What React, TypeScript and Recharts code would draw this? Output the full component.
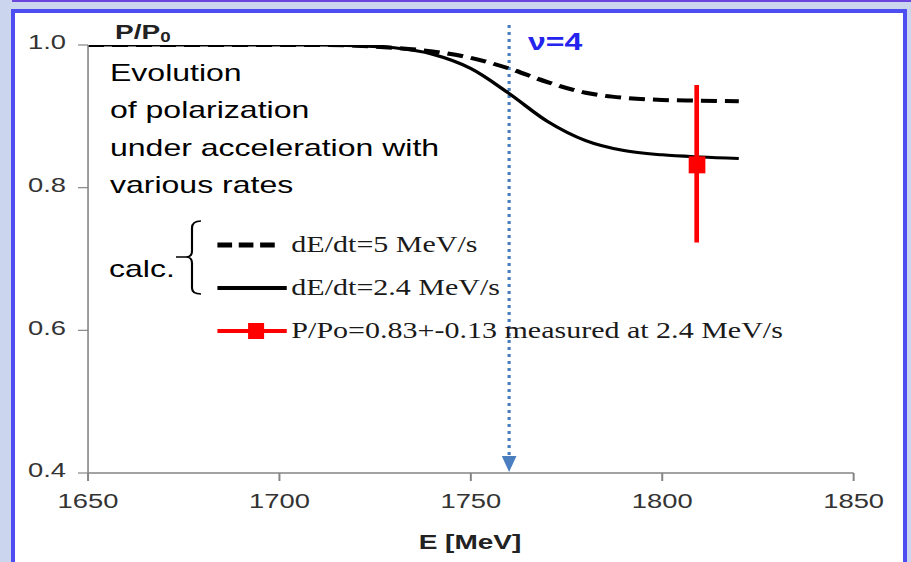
import {
  ComposedChart,
  ErrorBar,
  Legend,
  Line,
  ReferenceDot,
  ReferenceLine,
  Scatter,
  XAxis,
  YAxis,
} from "recharts";

// energy grid [MeV] and calculated P/P0 for the two ramp rates
const energy = [
  1650, 1660, 1670, 1680, 1690, 1700, 1710, 1720, 1730, 1740, 1750, 1760,
  1770, 1780, 1790, 1800, 1810, 1820,
];
const fastRate = [
  1.0, 1.0, 1.0, 1.0, 1.0, 1.0, 1.0, 0.999, 0.996, 0.991, 0.982, 0.967,
  0.948, 0.933, 0.926, 0.923, 0.922, 0.921,
];
const slowRate = [
  1.0, 1.0, 1.0, 1.0, 1.0, 1.0, 1.0, 0.999, 0.996, 0.987, 0.967, 0.932,
  0.893, 0.866, 0.852, 0.846, 0.843, 0.841,
];

// measurement at 2.4 MeV/s
const measuredE = [1809];
const measuredP = [0.832];
const measuredLow = [0.723];
const measuredHigh = [0.944];

const xTicks = [1650, 1700, 1750, 1800, 1850];
const yTicks = [0.4, 0.6, 0.8, 1.0];
const resonanceE = 1760;

const legendItems = [
  { key: "fast", label: "dE/dt=5 MeV/s" },
  { key: "slow", label: "dE/dt=2.4 MeV/s" },
  { key: "meas", label: "P/Po=0.83+-0.13 measured at 2.4 MeV/s" },
];

// the original picture is stretched horizontally (4:3 -> 16:9)
const STRETCH = 911 / 683;
const W = 683;
const H = 562;
const SANS = "'Liberation Sans', Arial, sans-serif";
const SERIF = "'Liberation Serif', 'Times New Roman', serif";

const chartData = energy.map((e, i) => ({
  e,
  fast: fastRate[i],
  slow: slowRate[i],
}));

const measuredData = measuredE.map((e, i) => ({
  e,
  p: measuredP[i],
  err: [measuredP[i] - measuredLow[i], measuredHigh[i] - measuredP[i]],
}));

function SquareMarker(props: any) {
  const { cx, cy } = props;
  if (cx == null || cy == null) return null;
  return <rect x={cx - 6} y={cy - 8.5} width={12.5} height={17} fill="#ff0000" />;
}

function ArrowHead(props: any) {
  const { cx, cy } = props;
  if (cx == null || cy == null) return null;
  return (
    <polygon
      points={`${cx - 5.5},${cy - 17} ${cx + 5.5},${cy - 17} ${cx},${cy - 1}`}
      fill="#4a7ebf"
    />
  );
}

function LegendSample({ k }: { k: string }) {
  if (k === "fast") {
    return (
      <svg width={56} height={12}>
        <line x1={1} y1={6} x2={46} y2={6} stroke="#000" strokeWidth={5} strokeDasharray="11 5" />
      </svg>
    );
  }
  if (k === "slow") {
    return (
      <svg width={56} height={12}>
        <line x1={1} y1={6} x2={53} y2={6} stroke="#000" strokeWidth={4} />
      </svg>
    );
  }
  return (
    <svg width={56} height={18}>
      <line x1={1} y1={9} x2={53} y2={9} stroke="#ff0000" strokeWidth={4} />
      <rect x={24} y={1} width={12} height={16} fill="#ff0000" />
    </svg>
  );
}

function renderLegend() {
  return (
    <div style={{ position: "relative", width: 440, height: 130 }}>
      {legendItems.map((item, i) => (
        <div
          key={item.key}
          style={{
            position: "absolute",
            left: 5,
            top: 10 + i * 43,
            height: 26,
            display: "flex",
            alignItems: "center",
            whiteSpace: "nowrap",
          }}
        >
          <LegendSample k={item.key} />
          <span style={{ fontFamily: SERIF, fontSize: 22.5, color: "#1a1a1a" }}>
            {item.label}
          </span>
        </div>
      ))}
    </div>
  );
}

export default function App() {
  const bx = (x: number) => x / STRETCH;
  return (
    <div
      style={{
        position: "absolute",
        left: 0,
        top: 0,
        width: 911,
        height: 562,
        overflow: "hidden",
        background: "#cbd5ee",
      }}
    >
      <div
        style={{
          position: "absolute",
          left: 12,
          top: 0,
          width: 899,
          height: 2,
          background: "#6a46dc",
        }}
      />
      <div
        style={{
          position: "absolute",
          left: 11,
          top: 9,
          width: 896,
          height: 600,
          boxSizing: "border-box",
          border: "4px solid #4d4df2",
          background: "#ffffff",
        }}
      />
      <div
        style={{
          position: "absolute",
          left: 0,
          top: 0,
          width: W,
          height: H,
          transform: `scaleX(${STRETCH})`,
          transformOrigin: "0 0",
        }}
      >
        <ComposedChart
          width={W}
          height={H}
          data={chartData}
          margin={{ top: 45, right: 43, left: 0, bottom: 39 }}
        >
          <XAxis
            dataKey="e"
            type="number"
            domain={[1650, 1850]}
            ticks={xTicks}
            allowDataOverflow
            stroke="#858585"
            strokeWidth={1.5}
            tickSize={8}
            tickMargin={12}
            height={50}
            tick={{ fill: "#333333", fontSize: 20.5, fontFamily: SANS }}
          />
          <YAxis
            type="number"
            domain={[0.4, 1.0]}
            ticks={yTicks}
            allowDataOverflow
            width={66}
            stroke="#858585"
            strokeWidth={1.2}
            tickSize={7.5}
            tickMargin={9}
            tickFormatter={(v) => Number(v).toFixed(1)}
            tick={{ fill: "#333333", fontSize: 20.5, fontFamily: SANS, dy: -3 }}
          />
          <Legend
            verticalAlign="middle"
            align="center"
            layout="horizontal"
            content={renderLegend}
            wrapperStyle={{ left: bx(210), top: 222, width: 440 }}
          />
          <ReferenceLine
            segment={[
              { x: resonanceE, y: 1.028 },
              { x: resonanceE, y: 0.42 },
            ]}
            stroke="#4a7ebf"
            strokeWidth={2.4}
            strokeDasharray="3 4"
            ifOverflow="visible"
          />
          <ReferenceDot
            x={resonanceE}
            y={0.4}
            ifOverflow="visible"
            shape={ArrowHead}
          />
          <Line
            type="monotone"
            dataKey="fast"
            stroke="#000000"
            strokeWidth={4}
            strokeDasharray="12 6"
            dot={false}
            activeDot={false}
            isAnimationActive={false}
          />
          <Line
            type="monotone"
            dataKey="slow"
            stroke="#000000"
            strokeWidth={3}
            dot={false}
            activeDot={false}
            isAnimationActive={false}
          />
          <Scatter
            data={measuredData}
            dataKey="p"
            fill="#ff0000"
            shape={SquareMarker}
            isAnimationActive={false}
          >
            <ErrorBar
              dataKey="err"
              direction="y"
              width={0}
              stroke="#ff0000"
              strokeWidth={3.5}
              isAnimationActive={false}
            />
          </Scatter>
        </ComposedChart>
        <svg
          width={W}
          height={H}
          style={{ position: "absolute", left: 0, top: 0, pointerEvents: "none" }}
        >
          <text x={bx(115)} y={39} fontFamily={SANS} fontWeight="bold" fontSize={21} fill="#222">
            P/P
            <tspan fontSize={14} dy={3}>0</tspan>
          </text>
          <text x={bx(528)} y={50.5} fontFamily={SANS} fontWeight="bold" fontSize={24} fill="#2424ee">
            ν=4
          </text>
          <g fontFamily={SANS} fontSize={24} fill="#000">
            <text x={bx(110)} y={81}>Evolution</text>
            <text x={bx(110)} y={118.5}>of polarization</text>
            <text x={bx(110)} y={156}>under acceleration with</text>
            <text x={bx(110)} y={193.5}>various rates</text>
            <text x={bx(109)} y={277}>calc.</text>
          </g>
          <path
            d={`M ${bx(201)} 221 Q ${bx(192)} 221 ${bx(192)} 228 L ${bx(192)} 251 Q ${bx(192)} 257 ${bx(186)} 257 L ${bx(176)} 257 M ${bx(186)} 257 Q ${bx(192)} 257 ${bx(192)} 263 L ${bx(192)} 288 Q ${bx(192)} 294 ${bx(201)} 294`}
            fill="none"
            stroke="#000"
            strokeWidth={1.6}
          />
          <text
            x={bx(470)}
            y={549}
            textAnchor="middle"
            fontFamily={SANS}
            fontWeight="bold"
            fontSize={21}
            fill="#222"
          >
            E [MeV]
          </text>
        </svg>
      </div>
    </div>
  );
}
